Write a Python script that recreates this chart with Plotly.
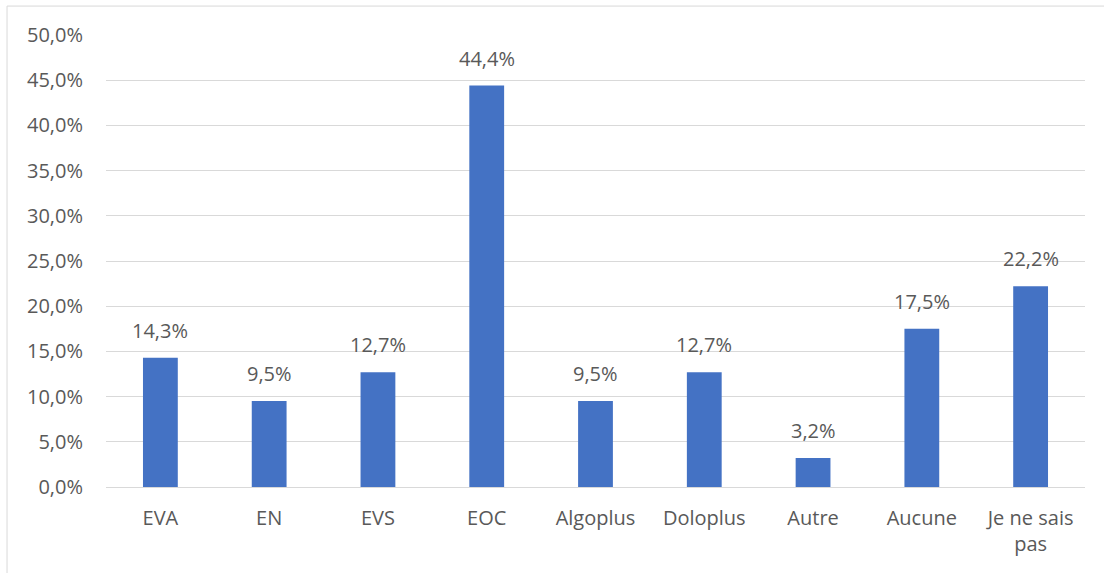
import plotly.graph_objects as go

categories = ['EVA', 'EN', 'EVS', 'EOC', 'Algoplus', 'Doloplus', 'Autre', 'Aucune', 'Je ne sais<br>pas']
values = [0.143, 0.095, 0.127, 0.444, 0.095, 0.127, 0.032, 0.175, 0.222]
tick_vals = [0, 0.05, 0.10, 0.15, 0.20, 0.25, 0.30, 0.35, 0.40, 0.45, 0.50]

police = 'Open Sans'
gris = '#595959'
taille = 20

fig = go.Figure()

fig.add_trace(go.Bar(
    x=categories,
    y=values,
    marker={'color': '#4472C4', 'line': {'width': 0}},
    width=0.32,
    hoverinfo='x+y',
))

# étiquettes de données au-dessus des barres
etiquettes = []
for c, v in zip(categories, values):
    etiquettes.append({
        'x': c, 'y': v, 'xref': 'x', 'yref': 'y',
        'text': ('%.1f%%' % (v * 100)).replace('.', ','),
        'showarrow': False, 'yanchor': 'bottom', 'yshift': 12,
        'font': {'family': police, 'size': taille, 'color': gris},
    })

fig.update_layout(
    width=1104,
    height=573,
    margin={'l': 106, 'r': 19, 't': 35, 'b': 86},
    paper_bgcolor='white',
    plot_bgcolor='white',
    separators=', ',
    showlegend=False,
    font={'family': police, 'size': taille, 'color': gris},
    annotations=etiquettes,
    xaxis={
        'showgrid': False,
        'showline': False,
        'ticks': '',
        'tickfont': {'family': police, 'size': taille, 'color': gris},
        'ticklabelstandoff': 17,
    },
    yaxis={
        'range': [0, 0.5],
        'tickvals': tick_vals,
        'tickformat': '.1%',
        'showgrid': True,
        'gridcolor': '#d9d9d9',
        'gridwidth': 1,
        'zeroline': True,
        'zerolinecolor': '#d9d9d9',
        'zerolinewidth': 1,
        'showline': False,
        'ticks': '',
        'tickfont': {'family': police, 'size': taille, 'color': gris},
        'ticklabelstandoff': 22,
    },
    shapes=[
        {'type': 'line', 'xref': 'paper', 'yref': 'paper',
         'x0': -0.1011, 'x1': -0.1011, 'y0': -0.3, 'y1': 1.064,
         'line': {'color': '#d9d9d9', 'width': 1}},
        {'type': 'line', 'xref': 'paper', 'yref': 'paper',
         'x0': -0.1011, 'x1': 1.1, 'y0': 1.064, 'y1': 1.064,
         'line': {'color': '#d9d9d9', 'width': 1}},
    ],
)

fig.write_html('out.html', config={'displayModeBar': False},
               post_script="document.body.style.margin='0';")
